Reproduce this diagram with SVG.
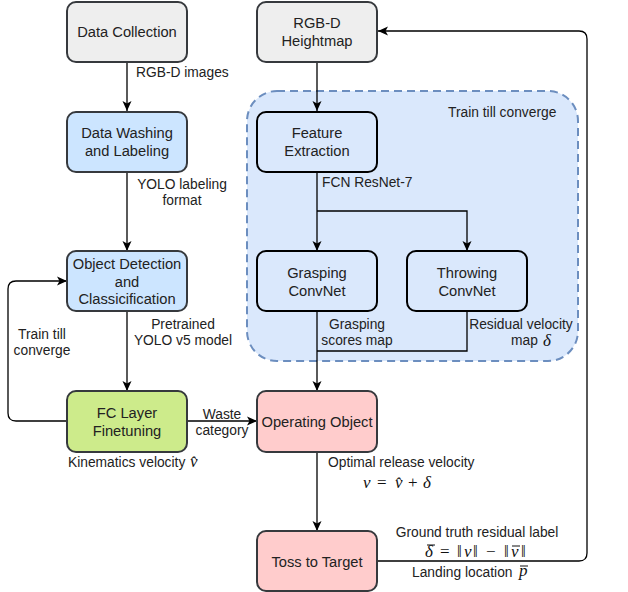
<svg xmlns="http://www.w3.org/2000/svg" width="628" height="592" viewBox="0 0 628 592">
<defs>
<marker id="arr" markerUnits="userSpaceOnUse" markerWidth="10" markerHeight="10" viewBox="0 0 10 10" refX="10" refY="5" orient="auto">
<path d="M0,0.5 L10,5 L0,9.5 L2.5,5 Z" fill="#000"/>
</marker>
<style>
.box{stroke:#36393d;stroke-width:2}
.inner{fill:#dae8fc;stroke:#000;stroke-width:2}
.bt{font-family:"Liberation Sans",Arial,sans-serif;font-size:14.7px;fill:#222;text-anchor:middle}
.lb{font-family:"Liberation Sans",Arial,sans-serif;font-size:13.8px;fill:#222}
.m{font-family:"Liberation Serif","Times New Roman",serif;font-style:italic;font-size:17px;fill:#111}
.mr{font-family:"Liberation Serif","Times New Roman",serif;font-style:normal;font-size:17px;fill:#111}
.c{fill:none;stroke:#000;stroke-width:1.3}
.bar{stroke:#111;stroke-width:1}
</style>
</defs>
<rect width="628" height="592" fill="#fff"/>
<g id="group-train">
<rect x="247" y="91" width="331" height="270" rx="30" fill="#dae8fc" stroke="#6c8ebf" stroke-width="2" stroke-dasharray="8 5"/>
<text class="lb" x="448" y="117">Train till converge</text>
</g>
<g id="connectors">
<path class="c" d="M127,62 V111" marker-end="url(#arr)"/>
<path class="c" d="M127,172 V251" marker-end="url(#arr)"/>
<path class="c" d="M127,311 V391" marker-end="url(#arr)"/>
<path class="c" d="M67,421 H16 Q8,421 8,413 V289 Q8,281 16,281 H67" marker-end="url(#arr)"/>
<path class="c" d="M187,421 H257" marker-end="url(#arr)"/>
<path class="c" d="M317,62 V111" marker-end="url(#arr)"/>
<path class="c" d="M317,172 V251" marker-end="url(#arr)"/>
<path class="c" d="M317,211 H467 V251" marker-end="url(#arr)"/>
<path class="c" d="M317,311 V391" marker-end="url(#arr)"/>
<path class="c" d="M467,311 V351 H317"/>
<path class="c" d="M317,452 V531" marker-end="url(#arr)"/>
<path class="c" d="M378,561 H579 Q587,561 587,553 V39 Q587,31 579,31 H378" marker-end="url(#arr)"/>
</g>
<g id="labels">
<text class="lb" x="136" y="77">RGB-D images</text>
<text class="lb" x="182" y="189" text-anchor="middle">YOLO labeling</text>
<text class="lb" x="182" y="205" text-anchor="middle">format</text>
<text class="lb" x="183" y="329" text-anchor="middle">Pretrained</text>
<text class="lb" x="183" y="345" text-anchor="middle">YOLO v5 model</text>
<text class="lb" x="42" y="339" text-anchor="middle">Train till</text>
<text class="lb" x="42" y="355" text-anchor="middle">converge</text>
<text class="lb" x="222" y="419" text-anchor="middle">Waste</text>
<text class="lb" x="222" y="435" text-anchor="middle">category</text>
<text class="lb" x="68" y="467">Kinematics velocity</text>
<text class="m" x="190" y="467">v̂</text>
<text class="lb" x="322" y="187">FCN ResNet-7</text>
<text class="lb" x="357" y="329" text-anchor="middle">Grasping</text>
<text class="lb" x="357" y="345" text-anchor="middle">scores map</text>
<text class="lb" x="521" y="329" text-anchor="middle">Residual velocity</text>
<text class="lb" x="511" y="345">map</text>
<text class="m" x="543" y="346">δ</text>
<text class="lb" x="328" y="467">Optimal release velocity</text>
<text class="m" x="363" y="488">v</text>
<text class="mr" x="377" y="488">=</text>
<text class="m" x="395" y="488">v̂</text>
<text class="mr" x="408" y="488">+</text>
<text class="m" x="423" y="488">δ</text>
<text class="lb" x="477" y="537" text-anchor="middle">Ground truth residual label</text>
<text class="m" x="425" y="557">δ</text>
<line class="bar" x1="427" y1="545" x2="435" y2="545"/>
<text class="mr" x="440" y="557">=</text>
<text class="mr" x="457" y="557">‖</text>
<text class="m" x="464" y="557">v</text>
<text class="mr" x="473" y="557">‖</text>
<text class="mr" x="486" y="557">−</text>
<text class="mr" x="504" y="557">‖</text>
<text class="m" x="511" y="557">v</text>
<line class="bar" x1="512" y1="546" x2="520" y2="546"/>
<text class="mr" x="521" y="557">‖</text>
<text class="lb" x="412" y="577">Landing location</text>
<text class="m" x="519" y="576">p</text>
<line class="bar" x1="520" y1="566" x2="528" y2="566"/>
</g>
<g id="node-data-collection">
<rect class="box" x="67" y="2" width="120" height="60" rx="9" fill="#eeeeee"/>
<text class="bt" x="127" y="37">Data Collection</text>
</g>
<g id="node-data-washing">
<rect class="box" x="67" y="112" width="120" height="60" rx="9" fill="#cce5ff"/>
<text class="bt" x="127" y="138">Data Washing</text>
<text class="bt" x="127" y="156">and Labeling</text>
</g>
<g id="node-object-detection">
<rect class="box" x="67" y="251" width="120" height="60" rx="9" fill="#cce5ff"/>
<text class="bt" x="127" y="269">Object Detection</text>
<text class="bt" x="127" y="287">and</text>
<text class="bt" x="127" y="304">Classicification</text>
</g>
<g id="node-fc-layer">
<rect class="box" x="67" y="391" width="120" height="61" rx="9" fill="#cdeb8b"/>
<text class="bt" x="127" y="418">FC Layer</text>
<text class="bt" x="127" y="436">Finetuning</text>
</g>
<g id="node-heightmap">
<rect class="box" x="257" y="2" width="120" height="60" rx="9" fill="#eeeeee"/>
<text class="bt" x="317" y="28">RGB-D</text>
<text class="bt" x="317" y="46">Heightmap</text>
</g>
<g id="node-feature-extraction">
<rect class="inner" x="257" y="112" width="120" height="60" rx="9"/>
<text class="bt" x="317" y="138">Feature</text>
<text class="bt" x="317" y="156">Extraction</text>
</g>
<g id="node-grasping">
<rect class="inner" x="257" y="251" width="120" height="60" rx="9"/>
<text class="bt" x="317" y="278">Grasping</text>
<text class="bt" x="317" y="296">ConvNet</text>
</g>
<g id="node-throwing">
<rect class="inner" x="407" y="251" width="120" height="60" rx="9"/>
<text class="bt" x="467" y="278">Throwing</text>
<text class="bt" x="467" y="296">ConvNet</text>
</g>
<g id="node-operating-object">
<rect class="box" x="257" y="391" width="120" height="61" rx="9" fill="#ffcccc"/>
<text class="bt" x="317" y="427">Operating Object</text>
</g>
<g id="node-toss">
<rect class="box" x="257" y="531" width="120" height="60" rx="9" fill="#ffcccc"/>
<text class="bt" x="317" y="567">Toss to Target</text>
</g>
</svg>
